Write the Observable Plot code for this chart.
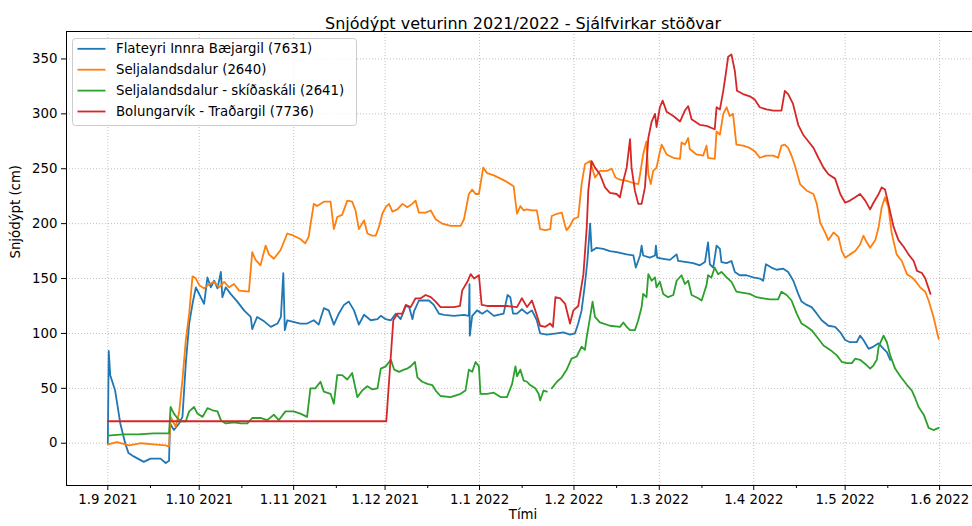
<!DOCTYPE html>
<html>
<head>
<meta charset="utf-8">
<script src="https://cdn.jsdelivr.net/npm/d3@7"></script>
<script src="https://cdn.jsdelivr.net/npm/@observablehq/plot@0.6"></script>
<style>
  html, body { margin: 0; padding: 0; background: #fff; }
  svg { display: block; }
</style>
</head>
<body>
<div id="chart"></div>
<script>
// ---------- DATA ----------
// time = days since 1 Sep 2021, value = snow depth (cm)
const seasonStart = "2021-09-01";

const chartTitle = "Snjódýpt veturinn 2021/2022 - Sjálfvirkar stöðvar";
const xLabel = "Tími";
const yLabel = "Snjódýpt (cm)";

const stationNames = [
  "Flateyri Innra Bæjargil (7631)",
  "Seljalandsdalur (2640)",
  "Seljalandsdalur - skíðaskáli (2641)",
  "Bolungarvík - Traðargil (7736)"
];
const stationColors = ["#1f77b4", "#ff7f0e", "#2ca02c", "#d62728"];

const monthTicks = ["2021-09-01","2021-10-01","2021-11-01","2021-12-01","2022-01-01",
  "2022-02-01","2022-03-01","2022-04-01","2022-05-01","2022-06-01"];
const midMonthTicks = ["2021-09-15","2021-10-15","2021-11-15","2021-12-15","2022-01-15",
  "2022-02-15","2022-03-15","2022-04-15","2022-05-15"];
const depthTicks = [0, 50, 100, 150, 200, 250, 300, 350];

const flateyri = [[0,0],[0.3,84],[0.8,62],[2.4,48],[4.1,18],[5.7,0],[6.8,-9],[8.5,-12],[11.8,-17],[14.0,-14],
[17.3,-14],[19.0,-18],[20.1,-16],[20.4,18],[21.7,12],[23.4,18],[24.5,24],[25.6,73],[26.7,109],[27.8,127],
[28.9,142],[30.5,133],[31.6,127],[32.7,151],[33.8,142],[34.9,148],[36.0,141],[37.1,156],[37.6,133],[38.7,142],
[40.3,136],[42.5,129],[44.7,121],[46.9,115],[47.4,104],[49.0,115],[51.3,111],[53.5,106],[55.7,109],[56.8,115],
[57.6,155],[58.1,103],[58.9,112],[63.2,109],[65.4,109],[67.6,112],[69.2,108],[70.9,123],[72.5,121],[74.2,108],
[75.8,118],[77.5,126],[79.1,129],[80.8,121],[82.4,108],[84.1,117],[86.3,112],[88.5,113],[89.6,116],[91.2,113],
[92.9,112],[94.5,118],[96.1,113],[97.8,125],[98.9,124],[100.0,113],[100.5,120],[102.1,130],[103.8,130],[105.4,130],
[107.0,126],[108.7,118],[110.3,117],[113.6,116],[116.9,117],[118.5,116],[118.7,145],[118.8,98],[119.6,116],[121.2,121],
[122.9,118],[124.5,121],[126.7,116],[129.9,118],[131.2,135],[132.1,133],[133.0,118],[134.3,118],[135.9,122],[137.6,118],
[139.2,121],[140.8,112],[141.9,100],[144.1,99],[147.3,100],[149.5,101],[151.7,99],[153.3,100],[154.4,109],[155.5,121],
[156.6,145],[157.4,166],[158.3,200],[158.8,175],[160.4,178],[162.6,177],[164.8,175],[167.0,174],[170.3,172],[172.5,171],
[173.3,160],[174.7,171],[175.2,180],[175.7,171],[177.9,169],[179.6,171],[179.9,180],[180.3,169],[182.3,168],[184.5,167],
[186.7,172],[187.2,166],[190.0,165],[192.1,164],[194.3,162],[196.0,165],[197.0,183],[197.6,163],[198.7,160],[199.8,180],
[200.9,177],[201.4,165],[203.1,164],[204.7,166],[205.8,156],[207.4,153],[209.6,153],[211.8,151],[214.0,150],[215.1,148],
[216.0,163],[217.8,160],[219.5,158],[221.7,159],[223.3,156],[225.0,148],[226.6,136],[227.7,129],[229.4,126],[231.0,124],
[232.7,118],[234.3,112],[236.5,107],[238.7,106],[240.4,101],[242.0,94],[243.6,92],[245.8,92],[246.9,98],[248.0,94],
[249.7,86],[251.3,88],[253.0,91],[254.6,86],[255.7,83],[256.8,76]];

const seljalandsdalur = [[0,-1],[3,1],[7,-2],[11,0],[15,-1],[19,-2],[20.1,-3],[20.6,24],[22.3,15],[23.4,28],
[24.5,58],[25.6,94],[26.7,118],[27.8,152],[28.9,150],[30.0,144],[31.6,141],[33.3,145],[34.9,147],[36.5,142],
[38.2,147],[39.8,142],[41.4,145],[43.1,139],[46.3,138],[47.4,174],[48.5,167],[50.1,162],[51.8,180],[52.9,172],
[54.5,168],[56.7,176],[58.9,191],[61.0,189],[63.2,186],[64.8,182],[65.9,188],[67.6,218],[68.7,216],[70.9,220],
[73.1,220],[74.2,195],[75.3,206],[76.9,208],[78.6,221],[80.2,220],[81.3,212],[82.4,195],[84.1,203],[85.2,191],
[86.8,189],[87.9,189],[89.0,197],[90.1,209],[91.2,215],[92.3,218],[93.4,211],[95.0,213],[96.7,218],[98.3,215],
[99.9,218],[101.0,221],[102.1,210],[104.3,210],[106.0,212],[107.6,204],[109.8,200],[112.5,198],[115.8,198],[116.9,204],
[118.5,227],[119.6,231],[120.7,227],[121.8,227],[123.2,251],[124.5,246],[126.7,244],[128.9,241],[131.0,238],[133.2,234],
[134.3,209],[135.4,216],[136.5,212],[137.6,213],[139.2,212],[140.8,212],[141.9,195],[143.6,194],[145.2,195],[145.7,207],
[147.4,209],[149.0,210],[150.1,198],[150.6,194],[151.7,198],[152.8,204],[154.4,206],[155.5,236],[156.6,254],[158.3,257],
[159.9,242],[161.5,248],[163.8,248],[165.4,250],[166.6,242],[168.1,240],[170.3,239],[172.5,237],[174.1,236],[174.7,245],
[175.7,263],[176.8,275],[177.4,245],[178.2,236],[179.0,248],[180.1,251],[181.0,263],[181.8,272],[183.4,263],[185.6,260],
[187.8,259],[188.3,274],[189.4,272],[190.5,278],[191.0,268],[193.2,263],[195.4,262],[196.5,271],[197.0,260],[199.2,259],
[199.8,284],[200.9,281],[202.0,300],[203.1,306],[204.1,298],[205.2,300],[206.3,272],[208.5,271],[210.7,269],[212.3,266],
[214.0,260],[216.2,262],[218.4,262],[220.0,260],[221.1,271],[222.2,272],[223.3,269],[224.4,262],[225.5,253],[227.2,236],
[229.4,230],[231.6,227],[232.7,218],[233.8,201],[235.4,192],[236.5,185],[238.2,192],[239.8,188],[240.9,175],[242.0,169],
[243.6,172],[245.3,175],[246.9,181],[248.0,189],[249.1,183],[250.2,178],[251.9,185],[253.0,197],[254.0,215],[255.1,224],
[256.2,215],[257.3,191],[258.9,172],[260.6,166],[262.3,154],[263.9,151],[265.0,148],[266.6,142],[268.3,138],[269.4,130],
[271.0,115],[272.7,95]];

const skidaskali = [[0,7],[5,8],[10,8],[15,9],[20.1,9],[20.6,33],[21.7,27],[22.8,23],[23.9,20],[25.6,20],
[26.7,29],[28.3,33],[29.4,27],[31.1,24],[32.7,32],[34.4,30],[36.0,29],[37.1,21],[38.7,18],[41.4,19],
[43.6,18],[45.8,18],[47.4,23],[50.1,23],[52.3,21],[54.5,26],[56.1,21],[58.3,29],[61.0,29],[63.2,27],
[65.4,24],[66.5,50],[68.1,50],[69.8,56],[70.9,47],[73.1,45],[74.2,36],[75.3,62],[76.9,62],[78.6,58],
[80.2,64],[81.9,42],[83.5,48],[85.2,52],[86.8,49],[88.5,50],[89.6,68],[91.2,70],[92.9,76],[94.0,67],
[95.6,65],[97.2,67],[98.3,68],[99.4,70],[100.8,74],[101.6,60],[103.2,56],[104.9,54],[106.5,53],[107.6,48],
[109.2,43],[112.5,42],[115.8,45],[117.4,48],[118.5,67],[119.6,65],[120.7,74],[121.8,70],[122.3,45],[124.5,45],
[126.7,46],[128.9,42],[131.0,42],[132.7,54],[133.8,70],[134.3,61],[135.4,67],[136.5,57],[137.6,56],[138.6,53],
[140.3,50],[141.4,45],[141.9,39],[143.0,48],[144.1,47],[144.9,null],[145.7,50],[147.4,56],[149.0,60],[150.6,67],
[152.2,77],[153.9,79],[155.5,88],[156.6,85],[157.2,97],[158.3,115],[159.1,129],[159.9,115],[161.5,110],[164.8,107],
[168.1,106],[169.2,110],[170.3,106],[171.4,103],[173.0,103],[174.1,112],[175.2,124],[175.7,136],[176.8,133],[177.4,154],
[178.5,148],[179.6,151],[180.1,142],[181.2,147],[182.3,136],[183.9,133],[185.6,135],[186.7,148],[188.3,153],[189.4,145],
[190.5,148],[191.6,135],[193.8,132],[194.9,130],[196.5,144],[197.0,153],[198.1,151],[199.2,160],[200.3,154],[201.4,156],
[203.1,151],[204.7,147],[206.3,138],[208.5,137],[210.7,136],[212.9,133],[215.1,132],[217.3,131],[220.0,131],[221.1,138],
[222.8,135],[224.4,130],[226.1,118],[227.7,109],[229.4,106],[231.0,103],[232.7,97],[234.9,89],[237.1,85],[239.3,80],
[240.9,74],[242.5,73],[244.2,73],[245.3,77],[246.9,76],[249.1,71],[250.2,68],[251.3,71],[252.4,76],[253.0,88],
[254.6,98],[255.7,92],[256.8,80],[258.4,68],[260.1,61],[262.3,53],[263.9,48],[265.0,41],[266.1,33],[267.8,26],
[269.4,14],[271.0,12],[272.7,14]];

const bolungarvik = [[0,20],[91.4,20],[93.7,112],[95.0,118],[96.7,118],[97.8,126],[99.4,124],[101.0,132],[102.7,132],[104.3,135],
[106.0,133],[107.6,129],[109.2,124],[111.4,124],[113.6,124],[115.6,125],[116.3,139],[118.0,147],[119.1,154],[120.2,150],
[121.8,153],[122.7,126],[124.5,125],[127.8,125],[131.0,125],[134.3,124],[135.9,132],[137.6,124],[139.2,130],[140.3,121],
[141.9,107],[143.6,106],[145.2,109],[146.1,106],[146.9,133],[148.5,132],[150.1,127],[151.7,109],[152.8,121],[154.4,125],
[156.1,154],[157.2,197],[157.7,230],[158.8,257],[159.9,251],[161.5,245],[163.2,233],[164.8,228],[167.0,227],[168.1,224],
[169.2,239],[170.3,251],[171.4,277],[171.9,251],[173.0,230],[174.1,218],[175.2,218],[176.3,233],[177.4,278],[178.5,293],
[179.6,300],[180.1,288],[181.2,306],[182.1,312],[183.4,302],[185.6,298],[187.8,293],[189.4,303],[190.5,307],[191.6,295],
[194.3,290],[196.5,289],[199.2,286],[199.8,306],[200.9,304],[202.0,321],[202.8,336],[203.6,352],[204.7,354],[205.8,339],
[206.5,321],[208.5,318],[210.7,316],[212.3,313],[214.0,306],[216.2,304],[218.4,303],[221.1,303],[222.2,321],[223.3,318],
[224.9,309],[226.6,290],[228.2,281],[229.9,275],[231.6,269],[233.2,260],[234.9,251],[236.5,245],[238.7,241],[240.4,227],
[242.0,219],[243.6,221],[245.3,224],[246.9,227],[248.6,221],[250.2,213],[251.3,219],[253.0,227],[254.0,233],[255.1,231],
[256.2,218],[257.9,197],[259.5,185],[261.2,179],[262.8,172],[264.5,166],[265.6,157],[267.2,155],[268.3,150],[270.0,136]];

// ---------- BUILD ----------
const DAY = 864e5;
const t0 = new Date(seasonStart + "T00:00:00Z").getTime();
const toDate = d => new Date(t0 + d * DAY);
const parse = s => new Date(s + "T00:00:00Z");

const seriesData = [flateyri, seljalandsdalur, skidaskali, bolungarvik];
const series = stationNames.map((name, i) => ({
  name, color: stationColors[i],
  rows: seriesData[i].map(([d, v]) => ({date: toDate(d), depth: v}))
}));

const xDomain = [toDate(-13.56), toDate(283.8)];
const yDomain = [-38.5, 375];
const fmt = d => `${d.getUTCDate()}.${d.getUTCMonth() + 1} ${d.getUTCFullYear()}`;
const gridStyle = {stroke: "#b0b0b0", strokeOpacity: 1, strokeWidth: 0.8, strokeDasharray: "1,2"};
const FONT = "DejaVu Sans, Liberation Sans, sans-serif";

const chart = Plot.plot({
  width: 972,
  height: 526,
  marginLeft: 66,
  marginRight: 0,
  marginTop: 31,
  marginBottom: 41,
  style: {fontFamily: FONT, fontSize: "13.3px", color: "#000", background: "#fff", overflow: "visible"},
  x: {type: "utc", domain: xDomain},
  y: {domain: yDomain},
  marks: [
    Plot.gridX(monthTicks.map(parse), gridStyle),
    Plot.gridY(depthTicks, gridStyle),
    ...series.map(s => Plot.line(s.rows, {x: "date", y: "depth", stroke: s.color, strokeWidth: 1.8})),
    Plot.ruleX([xDomain[0]], {stroke: "#000", strokeWidth: 1}),
    Plot.ruleY(yDomain, {stroke: "#000", strokeWidth: 1}),
    Plot.axisX(monthTicks.map(parse), {tickSize: 5, tickPadding: 4, tickFormat: fmt, fontSize: 13.3, label: null}),
    Plot.axisX(midMonthTicks.map(parse), {tickSize: 3, tickFormat: () => "", label: null}),
    Plot.axisY(depthTicks, {tickSize: 5, tickPadding: 4, fontSize: 13.3, label: null}),
    Plot.text([chartTitle], {text: d => d, frameAnchor: "top", dy: -13.6, dx: 3.5, fontSize: 16}),
    Plot.text([xLabel], {text: d => d, frameAnchor: "bottom", dy: 33, dx: 3.5, fontSize: 13.3}),
    Plot.text([yLabel], {text: d => d, frameAnchor: "left", rotate: -90, dx: -50.5, fontSize: 13.3})
  ]
});
document.getElementById("chart").appendChild(chart);

// ---------- LEGEND ----------
const svg = d3.select(chart.tagName.toLowerCase() === "svg" ? chart : chart.querySelector("svg"));
const lg = svg.append("g")
  .attr("font-family", FONT).attr("font-size", 13.3)
  .attr("text-anchor", "start");
lg.append("rect")
  .attr("x", 72.5).attr("y", 38.5).attr("width", 284).attr("height", 87)
  .attr("rx", 3).attr("fill", "#fff").attr("fill-opacity", 0.8)
  .attr("stroke", "#cccccc").attr("stroke-width", 1);
series.forEach((s, i) => {
  const cy = 48.8 + i * 20.9;
  lg.append("line").attr("x1", 77.5).attr("x2", 105.5).attr("y1", cy).attr("y2", cy)
    .attr("stroke", s.color).attr("stroke-width", 1.8);
  lg.append("text").attr("x", 116).attr("y", cy).attr("dy", "0.35em")
    .attr("text-anchor", "start").attr("fill", "#000").text(s.name);
});
</script>
</body>
</html>
